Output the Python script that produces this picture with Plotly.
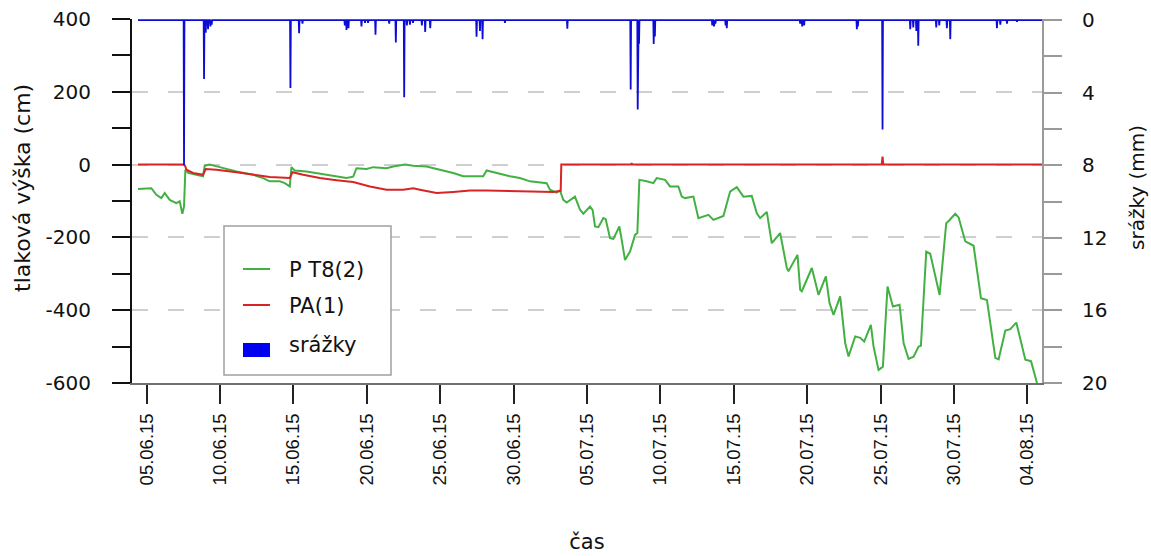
import pandas as pd
import plotly.graph_objects as go

# Pressure head in probe P T8(2), cm
pt8_time = [
    "2015-06-04 09:50", "2015-06-04 20:45", "2015-06-05 07:40", "2015-06-05 15:50",
    "2015-06-06 00:00", "2015-06-06 05:30", "2015-06-06 13:40", "2015-06-07 00:30",
    "2015-06-07 06:00", "2015-06-07 10:20", "2015-06-07 13:05", "2015-06-07 15:15",
    "2015-06-07 19:40", "2015-06-08 09:15", "2015-06-08 20:10", "2015-06-08 22:55",
    "2015-06-09 07:05", "2015-06-09 23:25", "2015-06-11 02:45", "2015-06-12 06:00",
    "2015-06-12 22:20", "2015-06-13 09:15", "2015-06-14 01:40", "2015-06-14 09:50",
    "2015-06-14 18:00", "2015-06-14 20:45", "2015-06-15 02:10", "2015-06-15 21:15",
    "2015-06-17 06:00", "2015-06-18 14:45", "2015-06-19 01:40", "2015-06-19 07:05",
    "2015-06-19 23:25", "2015-06-20 10:20", "2015-06-21 08:10", "2015-06-21 19:05",
    "2015-06-22 14:10", "2015-06-23 03:50", "2015-06-24 01:40", "2015-06-24 23:25",
    "2015-06-25 21:15", "2015-06-26 13:40", "2015-06-27 22:20", "2015-06-28 03:50",
    "2015-06-28 20:10", "2015-06-29 18:00", "2015-06-30 10:20", "2015-07-01 02:45",
    "2015-07-02 06:00", "2015-07-02 11:25", "2015-07-02 22:20", "2015-07-03 03:50",
    "2015-07-03 09:15", "2015-07-03 14:45", "2015-07-04 04:20", "2015-07-04 12:35",
    "2015-07-04 18:00", "2015-07-05 04:55", "2015-07-05 09:15", "2015-07-05 13:05",
    "2015-07-05 18:35", "2015-07-06 02:45", "2015-07-06 06:35", "2015-07-06 13:40",
    "2015-07-06 19:05", "2015-07-07 04:55", "2015-07-07 08:45", "2015-07-07 14:10",
    "2015-07-07 22:20", "2015-07-08 06:35", "2015-07-08 10:20", "2015-07-08 13:40",
    "2015-07-09 01:40", "2015-07-09 12:35", "2015-07-09 18:00", "2015-07-10 07:40",
    "2015-07-10 15:50", "2015-07-11 05:25", "2015-07-11 10:55", "2015-07-11 16:20",
    "2015-07-12 06:00", "2015-07-12 14:10", "2015-07-13 06:35", "2015-07-13 14:45",
    "2015-07-14 07:05", "2015-07-14 18:00", "2015-07-15 04:55", "2015-07-15 15:50",
    "2015-07-16 05:25", "2015-07-16 13:40", "2015-07-16 19:05", "2015-07-17 06:00",
    "2015-07-17 14:10", "2015-07-18 03:50", "2015-07-18 14:45", "2015-07-18 17:25",
    "2015-07-19 08:10", "2015-07-19 12:35", "2015-07-19 15:15", "2015-07-20 07:40",
    "2015-07-20 18:35", "2015-07-21 06:35", "2015-07-21 12:35", "2015-07-21 19:05",
    "2015-07-22 06:00", "2015-07-22 14:10", "2015-07-22 19:40", "2015-07-23 06:35",
    "2015-07-23 14:45", "2015-07-23 21:15", "2015-07-24 08:10", "2015-07-24 12:35",
    "2015-07-24 20:45", "2015-07-25 03:50", "2015-07-25 11:25", "2015-07-25 20:10",
    "2015-07-26 07:05", "2015-07-26 13:40", "2015-07-26 21:50", "2015-07-27 06:00",
    "2015-07-27 14:10", "2015-07-27 18:00", "2015-07-28 02:45", "2015-07-28 09:15",
    "2015-07-29 00:35", "2015-07-29 11:25", "2015-07-29 16:55", "2015-07-30 02:10",
    "2015-07-30 07:40", "2015-07-30 18:35", "2015-07-31 08:10", "2015-07-31 20:10",
    "2015-08-01 06:00", "2015-08-01 19:40", "2015-08-02 01:05", "2015-08-02 12:00",
    "2015-08-02 20:10", "2015-08-03 06:00", "2015-08-03 20:45", "2015-08-04 06:00",
    "2015-08-04 15:50",
]
pt8_cm = [
    -67, -66, -65, -83, -92, -78, -97, -106, -101, -135, -115, -14,
    -23, -28, -32, -3, 0, -7, -19, -28, -37, -46, -46, -51,
    -60, -7, -16, -19, -28, -37, -33, -10, -12, -7, -10, -5,
    0, -3, -5, -14, -23, -32, -32, -16, -23, -32, -37, -46,
    -51, -69, -77, -71, -97, -104, -88, -124, -135, -115, -125, -170,
    -172, -147, -150, -202, -204, -170, -207, -262, -239, -193, -188, -42,
    -46, -51, -37, -42, -60, -60, -88, -92, -88, -147, -138, -152,
    -141, -74, -62, -88, -86, -134, -147, -130, -216, -188, -284, -293,
    -248, -344, -348, -284, -358, -307, -380, -413, -362, -490, -527, -472,
    -476, -486, -440, -500, -564, -555, -335, -390, -385, -490, -534, -528,
    -500, -498, -239, -245, -358, -161, -152, -135, -145, -211, -223, -367,
    -372, -531, -535, -456, -452, -434, -536, -540, -600,
]

# Pressure head in probe PA(1), cm
pa1_time = [
    "2015-06-04 09:50", "2015-06-07 13:05", "2015-06-07 15:15", "2015-06-07 16:55",
    "2015-06-08 03:50", "2015-06-08 20:10", "2015-06-09 00:35", "2015-06-09 18:00",
    "2015-06-11 02:45", "2015-06-12 06:00", "2015-06-13 09:15", "2015-06-14 18:00",
    "2015-06-14 22:20", "2015-06-15 15:50", "2015-06-16 19:05", "2015-06-17 22:20",
    "2015-06-19 01:40", "2015-06-20 04:55", "2015-06-21 08:10", "2015-06-22 11:25",
    "2015-06-23 03:50", "2015-06-23 14:45", "2015-06-24 18:00", "2015-06-25 21:15",
    "2015-06-27 00:35", "2015-06-28 03:50", "2015-06-30 10:20", "2015-07-02 16:55",
    "2015-07-03 05:00", "2015-07-03 06:00", "2015-07-08 00:00", "2015-07-08 01:00",
    "2015-07-08 02:00", "2015-07-25 02:00", "2015-07-25 03:15", "2015-07-25 04:30",
    "2015-08-05 00:00",
]
pa1_cm = [
    0, 0, -5, -14, -23, -28, -12, -14, -21, -28, -34, -37,
    -21, -28, -37, -43, -48, -60, -69, -69, -65, -69, -78, -75,
    -71, -71, -74, -75, -72, 0, 0, 4, 0, 0, 22, 0,
    0,
]

# Precipitation totals, mm
rain_time = [
    "2015-06-07 13:05", "2015-06-08 21:50", "2015-06-09 00:35", "2015-06-09 04:20",
    "2015-06-09 08:10", "2015-06-09 10:20", "2015-06-14 19:05", "2015-06-15 09:15",
    "2015-06-15 14:45", "2015-06-18 12:00", "2015-06-18 14:45", "2015-06-18 18:00",
    "2015-06-19 15:15", "2015-06-19 21:00", "2015-06-20 02:00", "2015-06-20 14:10",
    "2015-06-21 12:35", "2015-06-21 23:25", "2015-06-22 13:05", "2015-06-22 17:30",
    "2015-06-22 22:30", "2015-06-23 03:30", "2015-06-23 18:00", "2015-06-23 23:25",
    "2015-06-24 07:40", "2015-06-27 11:25", "2015-06-27 17:00", "2015-06-27 21:15",
    "2015-06-29 09:50", "2015-07-03 15:50", "2015-07-07 23:25", "2015-07-08 10:55",
    "2015-07-08 13:05", "2015-07-09 13:05", "2015-07-09 15:00", "2015-07-13 12:50",
    "2015-07-13 15:40", "2015-07-13 18:00", "2015-07-14 10:40", "2015-07-14 12:35",
    "2015-07-19 12:35", "2015-07-19 15:50", "2015-07-19 19:05", "2015-07-23 09:15",
    "2015-07-23 11:00", "2015-07-25 03:15", "2015-07-27 00:35", "2015-07-27 05:30",
    "2015-07-27 10:30", "2015-07-27 13:40", "2015-07-28 19:05", "2015-07-29 00:00",
    "2015-07-29 12:30", "2015-07-29 18:00", "2015-08-01 22:20", "2015-08-02 03:50",
    "2015-08-02 14:45", "2015-08-03 07:05",
]
rain_mm = [
    8.0, 3.25, 0.7, 0.5, 0.35, 0.25, 3.74, 0.73,
    0.2, 0.3, 0.55, 0.45, 0.35, 0.15, 0.15, 0.81,
    0.2, 1.23, 4.25, 0.3, 0.25, 0.15, 0.3, 0.65,
    0.45, 0.92, 0.6, 1.05, 0.15, 0.47, 3.83, 4.93,
    1.3, 1.32, 0.9, 0.3, 0.35, 0.2, 0.3, 0.45,
    0.2, 0.35, 0.3, 0.5, 0.35, 6.03, 0.5, 0.4,
    0.6, 1.41, 0.4, 0.3, 0.45, 1.05, 0.45, 0.25,
    0.2, 0.1,
]
rain_start = "2015-06-04 09:50"
rain_end = "2015-08-05 00:00"

tick_dates = [
    "2015-06-05", "2015-06-10", "2015-06-15", "2015-06-20", "2015-06-25",
    "2015-06-30", "2015-07-05", "2015-07-10", "2015-07-15", "2015-07-20",
    "2015-07-25", "2015-07-30", "2015-08-04",
]
tick_text = [pd.Timestamp(d).strftime("%d.%m.%y") for d in tick_dates]
head_ticks = [-600, -400, -200, 0, 200, 400]
head_tick_text = [str(v) for v in head_ticks]

GREEN = "#43b043"
RED = "#d82424"
BLUE = "#0c0cd6"
FONT = "DejaVu Sans"

# Rain record drawn as impulses hanging from the zero line of the right axis
half = pd.Timedelta(minutes=40)
rx = [pd.Timestamp(rain_start)]
ry = [0.0]
for t, v in zip(rain_time, rain_mm):
    t = pd.Timestamp(t)
    rx += [t - half, t, t + half]
    ry += [0.0, v, 0.0]
rx.append(pd.Timestamp(rain_end))
ry.append(0.0)

fig = go.Figure()
fig.add_trace(go.Scatter(x=pd.to_datetime(pt8_time), y=pt8_cm, mode="lines",
                         name="P T8(2)", line=dict(color=GREEN, width=2),
                         showlegend=False))
fig.add_trace(go.Scatter(x=pd.to_datetime(pa1_time), y=pa1_cm, mode="lines",
                         name="PA(1)", line=dict(color=RED, width=2),
                         showlegend=False))
fig.add_trace(go.Scatter(x=rx, y=ry, mode="lines", name="srážky", yaxis="y2",
                         line=dict(color=BLUE, width=1.8), showlegend=False))

# plot area in pixels: x 132..1042, y 19..383
L, R, T, B = 132, 1042, 19, 383


def px(x):
    return (x - L) / (R - L)


def py(y):
    return (B - y) / (B - T)


shapes = [
    dict(type="rect", xref="paper", yref="paper", x0=px(224), x1=px(391),
         y0=py(375), y1=py(226), line=dict(color="#a0a0a0", width=1.5),
         fillcolor="white", layer="above"),
    dict(type="line", xref="paper", yref="paper", x0=px(243), x1=px(270),
         y0=py(269), y1=py(269), line=dict(color=GREEN, width=2), layer="above"),
    dict(type="line", xref="paper", yref="paper", x0=px(243), x1=px(270),
         y0=py(305), y1=py(305), line=dict(color=RED, width=2), layer="above"),
    dict(type="rect", xref="paper", yref="paper", x0=px(243), x1=px(270),
         y0=py(357), y1=py(343), line=dict(width=0), fillcolor="#0000f0",
         layer="above"),
]
legend_labels = ["P T8(2)", "PA(1)", "srážky"]
legend_y = [270, 306, 345]
annotations = [
    dict(text=t, xref="paper", yref="paper", x=px(287), y=py(yy),
         xanchor="left", yanchor="middle", showarrow=False,
         font=dict(size=21, family=FONT, color="#111"))
    for t, yy in zip(legend_labels, legend_y)
]
# vertical axis titles
annotations += [
    dict(text="tlaková výška (cm)", xref="paper", yref="paper",
         x=px(22), y=py(188), textangle=-90, showarrow=False,
         xanchor="center", yanchor="middle",
         font=dict(size=22, family=FONT, color="#111")),
    dict(text="srážky (mm)", xref="paper", yref="paper",
         x=px(1137), y=py(188), textangle=-90, showarrow=False,
         xanchor="center", yanchor="middle",
         font=dict(size=20, family=FONT, color="#111")),
]

fig.update_layout(
    width=1151, height=556,
    margin=dict(l=L, r=1151 - R, t=T, b=556 - B, autoexpand=False),
    paper_bgcolor="white", plot_bgcolor="white",
    font=dict(family=FONT, size=19, color="#111"),
    showlegend=False,
    shapes=shapes, annotations=annotations,
    xaxis=dict(
        type="date", range=["2015-06-04", "2015-08-05"], automargin=False,
        tickvals=tick_dates, ticktext=tick_text, tickangle=-90,
        tickfont=dict(family="Liberation Sans", size=18.5),
        ticks="outside", ticklen=19, tickwidth=2, tickcolor="#222",
        showline=True, linecolor="#707070", linewidth=2,
        showgrid=False, zeroline=False, ticklabelstandoff=2,
        title=dict(text="čas", font=dict(size=21), standoff=50),
    ),
    yaxis=dict(
        range=[-600, 400], tickvals=head_ticks, ticktext=head_tick_text,
        automargin=False, tickfont=dict(size=20),
        ticks="outside", ticklen=18, tickwidth=2, tickcolor="#111",
        showline=True, linecolor="#111", linewidth=2,
        showgrid=True, gridcolor="#cfcfcf", gridwidth=1.5, griddash="16px,20px",
        zeroline=False, ticklabelstandoff=17,
        minor=dict(dtick=100, ticks="outside", ticklen=18, tickwidth=2,
                   tickcolor="#111", showgrid=False),
    ),
    yaxis2=dict(
        overlaying="y", side="right", range=[20, -0.06], dtick=4, tick0=0,
        automargin=False, tickfont=dict(size=20),
        ticks="outside", ticklen=18, tickwidth=2, tickcolor="#9a9a9a",
        showline=True, linecolor="#9a9a9a", linewidth=2,
        showgrid=False, zeroline=False, ticklabelstandoff=16,
        minor=dict(dtick=2, ticks="outside", ticklen=18, tickwidth=2,
                   tickcolor="#9a9a9a", showgrid=False),
    ),
)

fig.write_html("out.html")
